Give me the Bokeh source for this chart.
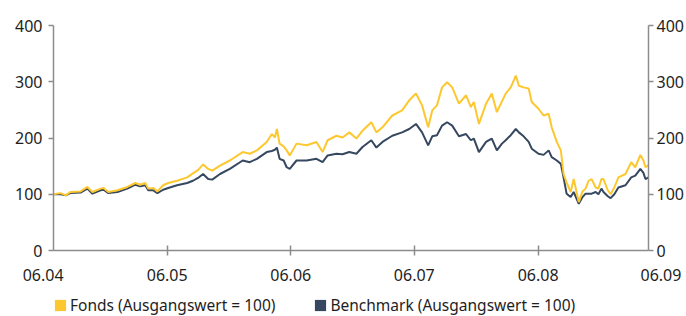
from datetime import datetime
import pandas as pd
from bokeh.plotting import figure
from bokeh.layouts import column
from bokeh.models import (Range1d, LinearAxis, FixedTicker, DatetimeTickFormatter,
                          Legend, LegendItem, ColumnDataSource)
from bokeh.embed import file_html
from bokeh.resources import INLINE

# ---------------- data ----------------
dates = [
    "2004-06-30", "2004-07-21", "2004-08-05", "2004-08-19", "2004-09-18", "2004-10-08", "2004-10-23", "2004-11-16", "2004-11-25", "2004-12-09",
    "2005-01-05", "2005-02-03", "2005-02-27", "2005-03-13", "2005-03-28", "2005-04-06", "2005-04-21", "2005-05-03", "2005-05-20", "2005-06-04",
    "2005-06-30", "2005-07-30", "2005-08-16", "2005-08-31", "2005-09-15", "2005-09-30", "2005-10-12", "2005-11-04", "2005-12-03", "2006-01-10",
    "2006-01-31", "2006-02-21", "2006-03-22", "2006-04-06", "2006-04-15", "2006-04-21", "2006-04-29", "2006-05-11", "2006-05-20", "2006-05-29",
    "2006-06-18", "2006-07-18", "2006-08-16", "2006-09-03", "2006-09-18", "2006-10-14", "2006-11-01", "2006-11-21", "2006-12-12", "2006-12-30",
    "2007-01-25", "2007-02-09", "2007-02-27", "2007-03-28", "2007-04-26", "2007-05-17", "2007-06-06", "2007-06-24", "2007-07-12", "2007-07-24",
    "2007-08-07", "2007-08-22", "2007-09-06", "2007-09-21", "2007-10-11", "2007-11-01", "2007-11-15", "2007-11-24", "2007-12-09", "2007-12-30",
    "2008-01-16", "2008-01-31", "2008-02-15", "2008-02-26", "2008-03-12", "2008-03-27", "2008-04-05", "2008-04-19", "2008-05-04", "2008-05-13",
    "2008-06-02", "2008-06-17", "2008-07-02", "2008-07-11", "2008-07-26", "2008-08-07", "2008-08-15", "2008-08-24", "2008-09-05", "2008-09-14",
    "2008-09-29", "2008-10-10", "2008-10-19", "2008-10-28", "2008-11-06", "2008-11-18", "2008-11-26", "2008-12-05", "2008-12-11", "2008-12-23",
    "2009-01-01", "2009-01-12", "2009-01-24", "2009-02-14", "2009-03-03", "2009-03-15", "2009-03-30", "2009-04-08", "2009-04-14", "2009-04-23",
]
fonds = [
    100, 102, 98, 104, 105, 113, 104, 110, 111, 104,
    107, 113, 120, 117, 120, 110, 111, 105, 116, 120,
    124, 130, 137, 143, 153, 145, 142, 151, 160, 175,
    172, 178, 193, 207, 201, 216, 190, 185, 178, 169,
    190, 187, 193, 175, 196, 204, 201, 210, 199, 213,
    228, 210, 219, 240, 249, 267, 279, 258, 219, 249,
    258, 290, 299, 290, 261, 276, 255, 264, 225, 261,
    279, 246, 265, 279, 290, 311, 293, 290, 288, 264,
    252, 240, 243, 219, 193, 178, 136, 121, 104, 127,
    86, 105, 110, 124, 127, 112, 110, 127, 127, 108,
    100, 112, 130, 136, 157, 148, 170, 160, 148, 152,
]
benchmark = [
    100, 100, 98, 102, 103, 110, 101, 107, 108, 102,
    104, 110, 117, 114, 116, 107, 107, 102, 108, 111,
    116, 120, 124, 129, 136, 127, 126, 136, 145, 160,
    157, 163, 175, 177, 179, 183, 163, 160, 148, 145,
    160, 160, 163, 157, 169, 172, 171, 175, 172, 184,
    196, 183, 193, 204, 210, 216, 225, 210, 187, 203,
    205, 222, 228, 222, 203, 207, 196, 199, 175, 193,
    199, 178, 190, 196, 205, 216, 210, 203, 193, 181,
    172, 170, 178, 166, 160, 154, 130, 101, 95, 104,
    83, 95, 101, 101, 101, 104, 100, 110, 104, 97,
    93, 100, 112, 116, 130, 133, 145, 138, 127, 130,
]
tick_dates = ["2004-06-01", "2005-06-01", "2006-06-01", "2007-06-01", "2008-06-01", "2009-06-01"]
y_ticks = [0, 100, 200, 300, 400]
series_labels = ["Fonds (Ausgangswert = 100)", "Benchmark (Ausgangswert = 100)"]

# ---------------- styling ----------------
YELLOW = "#FDC82F"
NAVY = "#364760"
AXIS = "#8c8c8c"
TXT = "#1e1e1e"
FONT = "Noto Sans"
FS = "16px"
NBSP = "\u00a0"

def ms(s):
    return (pd.Timestamp(s) - pd.Timestamp("1970-01-01")).total_seconds() * 1000.0

x = pd.to_datetime(dates)
src = ColumnDataSource(dict(x=x, fonds=fonds, bench=benchmark))
x0, x1 = ms(dates[0]), ms(dates[-1])
inner = [ms(d) for d in tick_dates[1:-1]]

# ---------------- main chart ----------------
p = figure(width=686, height=290, x_axis_type="datetime",
           output_backend="svg", toolbar_location=None,
           x_range=Range1d(x0, x1), y_range=Range1d(0, 400),
           min_border_left=53, min_border_right=36, min_border_top=25, min_border_bottom=40)
p.outline_line_color = None
p.xgrid.visible = False
p.ygrid.visible = False
p.background_fill_color = "white"
p.border_fill_color = "white"

p.line("x", "bench", source=src, color=NAVY, line_width=2)
p.line("x", "fonds", source=src, color=YELLOW, line_width=2)

# x axis: yearly tick marks drawn as minor ticks; labels on major ticks.
# The first/last labels (06.04, 06.09) lie just outside the data span, so they are
# anchored at the span ends and shifted outwards with non-breaking spaces.
e0, e1 = x0 + 1.0, x1 - 1.0
lab0 = pd.Timestamp(tick_dates[0]).strftime("%m.%y")
lab1 = pd.Timestamp(tick_dates[-1]).strftime("%m.%y")
xa = p.xaxis[0]
xa.ticker = FixedTicker(ticks=[e0] + inner + [e1], minor_ticks=inner)
xa.formatter = DatetimeTickFormatter(years="%m.%y", months="%m.%y", days="%m.%y")
xa.major_label_overrides = {e0: lab0 + NBSP * 5, e1: NBSP * 6 + lab1}
xa.axis_line_color = AXIS
xa.axis_line_width = 1.5
xa.major_tick_line_color = None
xa.major_tick_in = 0
xa.major_tick_out = 5
xa.minor_tick_line_color = AXIS
xa.minor_tick_line_width = 1.5
xa.minor_tick_in = 5
xa.minor_tick_out = 5
xa.major_label_standoff = 8
xa.major_label_text_font = FONT
xa.major_label_text_font_size = FS
xa.major_label_text_color = TXT

# y axes
ya = p.yaxis[0]
ra = LinearAxis()
p.add_layout(ra, "right")
for ax, st in ((ya, 6), (ra, 3)):
    ax.ticker = FixedTicker(ticks=y_ticks)
    ax.axis_line_color = AXIS
    ax.axis_line_width = 1.5
    ax.major_tick_line_color = AXIS
    ax.major_tick_line_width = 1.5
    ax.major_tick_in = 0
    ax.major_tick_out = 5
    ax.minor_tick_line_color = None
    ax.major_label_standoff = st
    ax.major_label_text_font = FONT
    ax.major_label_text_font_size = FS
    ax.major_label_text_color = TXT

# ---------------- legend strip below ----------------
lg = figure(width=686, height=26, x_axis_location=None, y_axis_location=None,
            output_backend="svg", toolbar_location=None,
            x_range=Range1d(0, 1), y_range=Range1d(0, 1),
            min_border_left=43, min_border_right=0, min_border_top=0, min_border_bottom=0)
lg.outline_line_color = None
lg.xgrid.visible = False
lg.ygrid.visible = False
lg.background_fill_color = "white"
lg.border_fill_color = "white"

# zero-size swatch renderers that only feed the legend
q1 = lg.quad(left=[-1], right=[-1], top=[-1], bottom=[-1], fill_color=YELLOW, line_color=None)
q2 = lg.quad(left=[-1], right=[-1], top=[-1], bottom=[-1], fill_color=NAVY, line_color=None)
legend = Legend(items=[LegendItem(label=series_labels[0], renderers=[q1]),
                       LegendItem(label=series_labels[1], renderers=[q2])],
                orientation="horizontal", location="bottom_left",
                glyph_width=14, glyph_height=14, label_height=14,
                label_standoff=3, spacing=38, padding=0, margin=0,
                border_line_color=None, background_fill_alpha=0,
                label_text_font=FONT, label_text_font_size="15.5px", label_text_color=TXT)
lg.add_layout(legend)

open("out.html", "w").write(file_html(column(p, lg, spacing=0), INLINE))
